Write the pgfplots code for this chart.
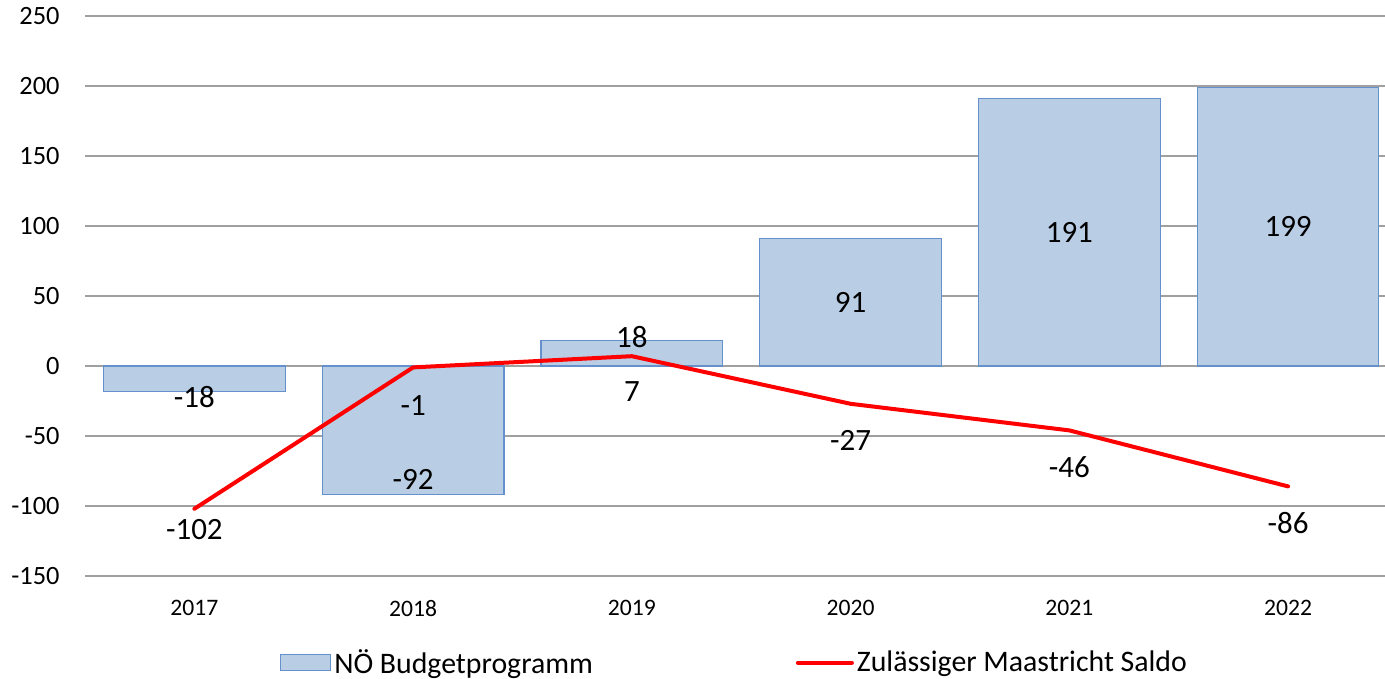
\documentclass[border=0pt]{standalone}
\usepackage{fontspec}
\setmainfont{Carlito}
\usepackage{pgfplots}
\usepackage{pgfplotstable}
\pgfplotsset{compat=1.18}

\definecolor{barfill}{RGB}{185,205,229}
\definecolor{baredge}{RGB}{100,145,205}
\definecolor{gridgray}{RGB}{160,160,160}
\definecolor{saldored}{RGB}{255,0,0}

% NÖ Budgetprogramm
\pgfplotstableread{
x y
0 -18
1 -92
2 18
3 91
4 191
5 199
}\budget
% Zulässiger Maastricht Saldo
\pgfplotstableread{
x y
0 -102
1 -1
2 7
3 -27
4 -46
5 -86
}\saldo
% where the data labels sit
\pgfplotstableread{
x ly lab
0 -22 -18
1 -81 -92
2 21 18
3 45.5 91
4 95.5 191
5 99.5 199
}\budgetlab
\pgfplotstableread{
x ly lab
0 -117 -102
1 -28 -1
2 -18.5 7
3 -53.5 -27
4 -72 -46
5 -112 -86
}\saldolab

\begin{document}
\begin{tikzpicture}
\begin{axis}[
    name=ax,
    scale only axis,
    width=650pt, height=280pt,
    xmin=-0.5, xmax=5.443,
    ymin=-150, ymax=250,
    ytick={-150,-100,...,250},
    xtick={0,...,5},
    xticklabels={2017,2018,2019,2020,2021,2022},
    axis line style={draw=none},
    major tick length=0pt,
    ymajorgrids,
    grid style={gridgray, line width=0.6pt},
    /pgf/number format/assume math mode=true,
    yticklabel style={font=\fontsize{13.2}{15}\selectfont, inner sep=0pt, xshift=-12.5pt},
    xticklabel style={font=\fontsize{11.8}{14}\selectfont, inner sep=0pt, yshift=-12pt},
    legend columns=2,
    legend cell align=left,
    legend style={at={(0.5,-0.155)}, anchor=center, draw=none,
        font=\fontsize{14.9}{17}\selectfont,
        nodes={inner sep=1.5pt},
        /tikz/every even column/.append style={column sep=100pt}},
]
\addplot[ybar, bar width=0.83, fill=barfill, draw=baredge, line width=0.6pt,
    legend image code/.code={\draw[fill=barfill, draw=baredge, line width=0.6pt] (0pt,-4pt) rectangle (25pt,4pt);}]
    table[x=x, y=y] {\budget};
\addlegendentry{NÖ Budgetprogramm}
\addplot[saldored, line width=2pt, mark=none, line cap=round, line join=round,
    legend image code/.code={\draw[saldored, line width=2pt, line cap=round] (0pt,0pt) -- (27pt,0pt);}]
    table[x=x, y=y] {\saldo};
\addlegendentry{Zulässiger Maastricht Saldo}

\addplot[draw=none, mark=none, forget plot, nodes near coords, point meta=explicit symbolic,
    every node near coord/.style={anchor=center, font=\fontsize{15.5}{18}\selectfont}]
    table[x=x, y=ly, meta=lab] {\budgetlab};
\addplot[draw=none, mark=none, forget plot, nodes near coords, point meta=explicit symbolic,
    every node near coord/.style={anchor=center, font=\fontsize{15.5}{18}\selectfont}]
    table[x=x, y=ly, meta=lab] {\saldolab};
\end{axis}
\pgfresetboundingbox
\path[use as bounding box] ([shift={(-42.5pt,-51.5pt)}]ax.south west) rectangle ([shift={(0pt,8pt)}]ax.north east);
\end{tikzpicture}
\end{document}
